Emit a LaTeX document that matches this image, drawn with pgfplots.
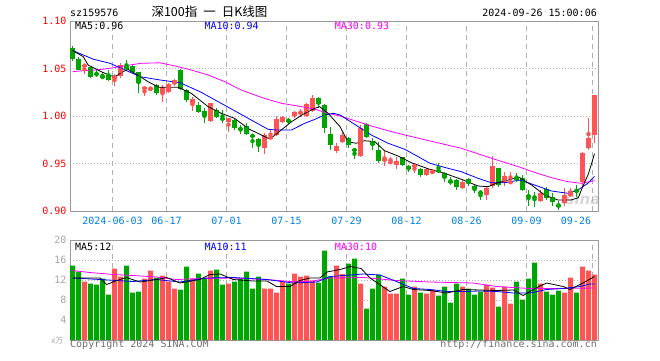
\documentclass[border=0pt]{standalone}
\usepackage{pgfplots}
\pgfplotsset{compat=1.18}
\usepackage{pgfplotstable}
\usepackage{fontspec}
\setmainfont{DejaVu Sans}
\setmonofont{DejaVu Sans Mono}
\newfontfamily\cjk{Noto Sans CJK SC}
\definecolor{kred}{RGB}{255,84,84}
\definecolor{kgreen}{RGB}{0,166,0}
\definecolor{framec}{RGB}{153,153,153}
\definecolor{gridc}{RGB}{175,175,175}
\definecolor{datec}{RGB}{0,128,224}
\definecolor{mag}{RGB}{255,0,255}
\definecolor{bottomtxt}{RGB}{110,110,110}
\definecolor{voltick}{RGB}{165,165,165}
\newcommand{\mono}{\ttfamily\fontsize{10}{12}\selectfont}

% red (rising) candles: x o h l c v
\pgfplotstableread{
x o h l c v
2 1.0519 1.0547 1.0439 1.0542 11.7
7 1.0386 1.0439 1.0319 1.0424 14.3
8 1.0416 1.0555 1.0400 1.0537 12.7
12 1.0281 1.0308 1.0211 1.0302 12.3
13 1.0274 1.0308 1.0266 1.0298 13.9
15 1.0239 1.0326 1.0151 1.0302 12.9
16 1.0256 1.0351 1.0245 1.0337 11.7
17 1.0337 1.0386 1.0316 1.0379 10.3
20 1.0140 1.0197 1.0056 1.0176 12.3
23 0.9951 1.0140 0.9940 1.0134 13.9
26 0.9940 0.9984 0.9835 0.9976 11.3
32 0.9660 0.9818 0.9600 0.9800 10.3
33 0.9765 0.9853 0.9755 0.9782 10.3
34 0.9800 1.0000 0.9789 0.9965 9.5
35 0.9940 1.0005 0.9923 0.9993 11.7
37 1.0000 1.0056 0.9976 1.0045 13.3
38 1.0028 1.0071 0.9993 1.0045 12.7
39 1.0000 1.0134 0.9993 1.0126 12.9
40 1.0056 1.0221 1.0045 1.0186 11.9
44 0.9635 0.9713 0.9614 0.9684 14.9
45 0.9729 0.9835 0.9713 0.9800 13.2
48 0.9579 0.9905 0.9572 0.9871 11.3
52 0.9534 0.9635 0.9474 0.9544 10.7
53 0.9508 0.9572 0.9495 0.9519 9.3
54 0.9484 0.9572 0.9439 0.9529 9.3
57 0.9466 0.9495 0.9397 0.9484 10.7
59 0.9379 0.9449 0.9368 0.9439 9.3
60 0.9397 0.9439 0.9389 0.9424 10.1
65 0.9239 0.9326 0.9228 0.9308 10.7
69 0.9168 0.9256 0.9116 0.9239 11.1
70 0.9263 0.9579 0.9239 0.9474 10.5
72 0.9292 0.9414 0.9263 0.9368 10.7
73 0.9298 0.9414 0.9292 0.9308 7.3
78 0.9108 0.9221 0.9098 0.9186 11.3
82 0.9084 0.9242 0.9053 0.9168 9.5
83 0.9158 0.9239 0.9151 0.9211 12.5
85 0.9305 0.9621 0.9263 0.9611 14.7
86 0.9663 0.9976 0.9642 0.9765 13.9
87 0.9800 1.0225 0.9713 1.0221 13.1
}\redk

% green (falling) candles: x o h l c v
\pgfplotstableread{
x o h l c v
0 1.0711 1.0734 1.0579 1.0600 14.9
1 1.0595 1.0621 1.0479 1.0489 13.7
3 1.0511 1.0519 1.0400 1.0414 11.3
4 1.0447 1.0484 1.0407 1.0432 11.1
5 1.0416 1.0460 1.0386 1.0405 12.3
6 1.0432 1.0484 1.0372 1.0379 9.1
9 1.0526 1.0589 1.0477 1.0492 14.9
10 1.0526 1.0547 1.0449 1.0460 9.5
11 1.0460 1.0468 1.0245 1.0344 9.7
14 1.0326 1.0337 1.0221 1.0245 12.5
18 1.0484 1.0492 1.0274 1.0281 10.1
19 1.0274 1.0281 1.0151 1.0168 14.7
21 1.0116 1.0151 1.0028 1.0045 13.3
22 1.0056 1.0081 0.9923 1.0000 12.3
24 1.0063 1.0081 0.9979 0.9993 14.1
25 0.9976 1.0063 0.9929 0.9965 11.1
27 0.9958 0.9965 0.9853 0.9871 11.7
28 0.9871 0.9905 0.9811 0.9860 12.3
29 0.9895 0.9923 0.9800 0.9811 13.7
30 0.9800 0.9811 0.9660 0.9782 10.3
31 0.9755 0.9765 0.9624 0.9695 12.7
36 0.9958 0.9982 0.9913 0.9947 11.3
41 1.0186 1.0200 1.0081 1.0126 11.5
42 1.0116 1.0126 0.9824 0.9871 17.9
43 0.9811 0.9887 0.9642 0.9695 12.7
46 0.9765 0.9782 0.9660 0.9695 15.3
47 0.9649 0.9663 0.9544 0.9635 16.3
49 0.9916 0.9923 0.9765 0.9782 6.3
50 0.9740 0.9765 0.9642 0.9695 10.3
51 0.9642 0.9729 0.9508 0.9529 13.1
55 0.9565 0.9572 0.9474 0.9484 12.3
56 0.9474 0.9484 0.9414 0.9439 9.1
58 0.9439 0.9449 0.9361 0.9379 9.5
61 0.9428 0.9502 0.9403 0.9418 8.9
62 0.9403 0.9414 0.9308 0.9344 10.7
63 0.9319 0.9355 0.9274 0.9298 7.5
64 0.9326 0.9334 0.9221 0.9256 11.3
66 0.9334 0.9344 0.9263 0.9298 10.3
67 0.9263 0.9274 0.9186 0.9228 9.1
68 0.9203 0.9216 0.9116 0.9186 9.7
71 0.9449 0.9449 0.9256 0.9274 6.7
74 0.9347 0.9397 0.9308 0.9337 11.7
75 0.9351 0.9379 0.9211 0.9221 8.1
76 0.9163 0.9221 0.9053 0.9153 12.3
77 0.9149 0.9203 0.9045 0.9139 15.5
79 0.9228 0.9256 0.9116 0.9134 9.7
80 0.9147 0.9186 0.9053 0.9095 9.1
81 0.9063 0.9105 0.9011 0.9053 9.9
84 0.9219 0.9274 0.9151 0.9208 9.5
}\greenk

\pgfplotsset{
  kbase/.style={
    scale only axis, width=528pt,
    xmin=-0.4167, xmax=87.5833,
    axis line style={framec, line width=0.9pt},
    tick style={draw=none},
    xtick={6.67,15.67,25.67,35.67,45.67,55.67,65.67,75.67,86.67},
    xmajorgrids, ymajorgrids,
    x grid style={gridc, line width=0.8pt, dash pattern=on 5pt off 4pt},
    y grid style={gridc, line width=0.8pt, dash pattern=on 1pt off 2pt},
    ticklabel style={font=\mono},
    axis on top=false,
  },
}

\begin{document}
\begin{tikzpicture}[x=1pt,y=1pt]
\useasboundingbox (0,0) rectangle (660,360);

% watermark
\node[text=black!16, font=\bfseries\itshape\fontsize{15}{15}\selectfont] at (583,161) {sina};

% ---------- price panel ----------
\begin{axis}[kbase,
  at={(70pt,149pt)}, anchor=south west, height=190pt,
  ymin=0.90, ymax=1.10,
  ytick={0.90,0.95,1.00,1.05,1.10},
  yticklabels={0.90,0.95,1.00,1.05,1.10},
  yticklabel style={text=red},
  xticklabels={2024-06-03,06-17,07-01,07-15,07-29,08-12,08-26,09-09,},
  xticklabel style={text=datec, yshift=-3pt},
]
% wicks
\addplot[kred, only marks, mark=none, forget plot,
  error bars/.cd, y dir=both, y explicit, error mark=none,
  error bar style={line width=1pt, kred, solid}]
  table[x=x, y expr={(\thisrow{h}+\thisrow{l})/2}, y error expr={(\thisrow{h}-\thisrow{l})/2}] {\redk};
\addplot[kgreen, only marks, mark=none, forget plot,
  error bars/.cd, y dir=both, y explicit, error mark=none,
  error bar style={line width=1pt, kgreen, solid}]
  table[x=x, y expr={(\thisrow{h}+\thisrow{l})/2}, y error expr={(\thisrow{h}-\thisrow{l})/2}] {\greenk};
% bodies
\addplot[kred, only marks, mark=none, forget plot,
  error bars/.cd, y dir=both, y explicit, error mark=none,
  error bar style={line width=5pt, kred, solid}]
  table[x=x, y expr={(\thisrow{o}+\thisrow{c})/2}, y error expr={max(abs(\thisrow{c}-\thisrow{o})/2,0.0006)}] {\redk};
\addplot[kgreen, only marks, mark=none, forget plot,
  error bars/.cd, y dir=both, y explicit, error mark=none,
  error bar style={line width=5pt, kgreen, solid}]
  table[x=x, y expr={(\thisrow{o}+\thisrow{c})/2}, y error expr={max(abs(\thisrow{c}-\thisrow{o})/2,0.0006)}] {\greenk};
% MA30
\addplot[mag, line width=0.8pt, mark=none] coordinates {
(0,1.0466)(1.2,1.0474)(4,1.0485)(6.25,1.0502)(8.8,1.0530)(11.5,1.0555)(14.6,1.0560)(17.6,1.0519)(19.8,1.0484)(22.6,1.0432)(25.4,1.0361)(28.1,1.0274)(29.6,1.0239)(32,1.0185)(34.8,1.0134)(37.6,1.0105)(40.4,1.0071)(42.6,1.0028)(44.6,1.0000)(49.8,0.9895)(52.6,0.9845)(55.4,0.9800)(59.4,0.9740)(64.8,0.9660)(70.4,0.9544)(74.4,0.9465)(77,0.9407)(79.8,0.9351)(82.6,0.9308)(84.8,0.9292)(87,0.9319)};
% MA10
\addplot[blue, line width=0.8pt, mark=none] coordinates {
(0,1.0690)(3.5,1.0597)(6.25,1.0555)(11.25,1.0414)(14.6,1.0379)(17.9,1.0351)(21.25,1.0256)(26.8,1.0063)(29.25,0.9976)(32.6,0.9860)(34,0.9853)(36.5,0.9853)(38.7,0.9923)(40.4,0.9965)(42,1.0011)(43.5,1.0028)(44.6,1.0011)(49.8,0.9800)(52.6,0.9713)(55.4,0.9649)(59.6,0.9502)(62.6,0.9449)(64.8,0.9414)(67.6,0.9344)(69.8,0.9298)(72,0.9298)(74.6,0.9326)(77,0.9274)(79.8,0.9211)(82.6,0.9186)(84.25,0.9221)(85.9,0.9292)(87,0.9365)};
% MA5
\addplot[black, line width=0.8pt, mark=none] coordinates {
(0,1.0690)(1.8,1.0624)(2.6,1.0537)(4.8,1.0466)(6.5,1.0421)(7.3,1.0421)(8.1,1.0456)(9.25,1.0492)(10.4,1.0449)(12.6,1.0361)(14.4,1.0302)(17.6,1.0302)(19.8,1.0239)(22.6,1.0098)(24.8,1.0028)(27,0.9976)(29.4,0.9863)(30.9,0.9818)(32.6,0.9765)(33.4,0.9782)(34.8,0.9853)(36.5,0.9940)(38.7,1.0028)(40.4,1.0081)(41.2,1.0098)(42.6,1.0028)(44.6,0.9887)(45.9,0.9729)(47.3,0.9713)(48.7,0.9740)(50.4,0.9729)(52,0.9635)(54.25,0.9579)(56.5,0.9508)(59.4,0.9442)(62,0.9397)(64.8,0.9334)(67.6,0.9263)(69.25,0.9256)(70.9,0.9298)(72.6,0.9326)(74.4,0.9356)(76.5,0.9274)(78.7,0.9168)(80.9,0.9116)(83.1,0.9116)(84.3,0.9140)(85,0.9250)(86,0.9393)(87,0.9603)};
\end{axis}

% ---------- volume panel ----------
\begin{axis}[kbase,
  at={(70pt,20pt)}, anchor=south west, height=100pt,
  ymin=0, ymax=20,
  ytick={4,8,12,16,20},
  yticklabels={4,8,12,16,20},
  yticklabel style={text=voltick},
  xticklabels={},
]
\addplot[ybar, bar width=5pt, bar shift=0pt, fill=kred, draw=none, forget plot] table[x=x, y=v] {\redk};
\addplot[ybar, bar width=5pt, bar shift=0pt, fill=kgreen, draw=none, forget plot] table[x=x, y=v] {\greenk};
% MA30
\addplot[mag, line width=0.8pt, mark=none] coordinates {
(0,13.9)(2.9,13.5)(6.8,13.1)(10.1,12.9)(14,12.6)(17.3,12.1)(21.25,12.3)(26.8,12.4)(32.4,12.1)(36.25,11.7)(39.6,11.7)(42.9,12.4)(48.5,12.5)(54,11.9)(59.6,11.6)(66.8,11.4)(70.7,10.7)(76.25,10.3)(81.8,10.3)(87,10.4)};
% MA10
\addplot[blue, line width=0.8pt, mark=none] coordinates {
(0,12.4)(4.58,12.1)(10.1,11.7)(14,12.1)(17.9,11.6)(22.3,12.4)(26.8,12.5)(32.4,12.1)(36.7,11.4)(40.7,11.6)(42.9,12.7)(48.5,13.2)(51.25,13.0)(54,11.7)(56.8,10.3)(59.6,10.1)(62.4,9.7)(65.1,9.7)(67.9,9.8)(70.7,9.7)(73.5,9.4)(76.25,9.4)(79,10.1)(81.8,10.3)(84.6,10.7)(86.25,11.2)(87,11.2)};
% MA5
\addplot[black, line width=0.8pt, mark=none] coordinates {
(0,12.4)(4.58,12.4)(5.7,11.1)(7.36,11.9)(9,12.5)(11.25,11.6)(14,12.1)(15.7,12.5)(17.9,11.4)(21.25,12.1)(22.9,13.1)(24.6,13.2)(26.8,12.1)(30.1,11.8)(32.4,11.8)(34,10.7)(36.25,10.7)(37.9,11.9)(39.6,12.4)(41.25,12.4)(42.4,13.6)(44.6,14.1)(46.3,14.7)(48.1,14.3)(49.6,12.4)(52.9,9.7)(55.1,10.7)(56.8,10.1)(59.6,9.9)(62.4,9.4)(65.1,10.1)(67.9,10.0)(70.7,9.9)(73.5,10.0)(75.1,8.9)(77.4,10.5)(79,11.4)(81.8,10.7)(82.9,10.1)(85.1,11.4)(87,12.7)};
\end{axis}

% ---------- texts ----------
\node[anchor=base west, inner sep=0pt, font=\mono] at (70,343.3) {sz159576};
\node[anchor=base, inner sep=0pt, font=\cjk\fontsize{12.5}{14}\selectfont] at (209.5,343.5) {深100指\hspace{6pt}一\hspace{6pt}日K线图};
\node[anchor=base east, inner sep=0pt, font=\mono] at (597,343.3) {2024-09-26 15:00:06};

\node[anchor=base west, inner sep=0pt, font=\mono] at (75,330.7) {MA5:0.96};
\node[anchor=base west, inner sep=0pt, font=\mono, text=blue] at (204.3,330.7) {MA10:0.94};
\node[anchor=base west, inner sep=0pt, font=\mono, text=mag] at (334.7,330.7) {MA30:0.93};

\node[anchor=center, inner sep=0pt, font=\mono, text=datec] at (576,139) {09-26};

\node[anchor=base west, inner sep=0pt, font=\mono] at (75,110) {MA5:12};
\node[anchor=base west, inner sep=0pt, font=\mono, text=blue] at (204.3,110) {MA10:11};
\node[anchor=base west, inner sep=0pt, font=\mono, text=mag] at (334.7,110) {MA30:10};

\node[anchor=east, inner sep=0pt, font=\cjk\fontsize{8}{8}\selectfont, text=voltick] at (63.5,19) {x万};

\node[anchor=base west, inner sep=0pt, font=\mono, text=bottomtxt] at (70,13) {Copyright 2024 SINA.COM};
\node[anchor=base east, inner sep=0pt, font=\mono, text=bottomtxt] at (597,13) {http://finance.sina.com.cn};
\end{tikzpicture}
\end{document}
